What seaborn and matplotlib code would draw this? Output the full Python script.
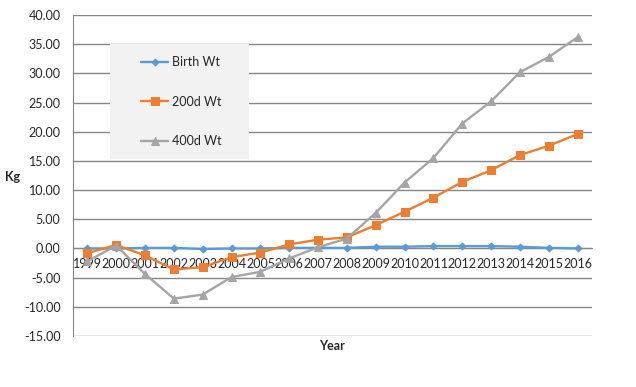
import numpy as np
import pandas as pd
import matplotlib
matplotlib.use('Agg')
import matplotlib.pyplot as plt
import seaborn as sns
from matplotlib.patches import Rectangle
from matplotlib.ticker import FormatStrFormatter

# data
years = [str(y) for y in range(1999, 2017)]
birth_wt = [0.0, 0.0, 0.1, 0.1, -0.1, 0.0, 0.0, 0.1, 0.1, 0.1,
            0.3, 0.3, 0.4, 0.4, 0.4, 0.3, 0.1, 0.0]
d200_wt = [-0.8, 0.6, -1.2, -3.6, -3.2, -1.5, -0.7, 0.7, 1.5, 1.9,
           4.0, 6.3, 8.7, 11.4, 13.4, 16.0, 17.6, 19.6]
d400_wt = [-2.2, 0.5, -4.4, -8.6, -7.9, -4.9, -4.0, -1.7, 0.2, 1.7,
           6.1, 11.3, 15.5, 21.4, 25.2, 30.2, 32.8, 36.2]

series = ['Birth Wt', '200d Wt', '400d Wt']
colors = ['#5b9bd5', '#ed7d31', '#a5a5a5']
markers = ['D', 's', '^']
msizes = [3.5, 5.5, 6]

sns.set_style('white')
plt.rcParams['font.family'] = ['Lato', 'DejaVu Sans']
plt.rcParams['axes.unicode_minus'] = False

df = pd.DataFrame({'Year': years, 'Birth Wt': birth_wt,
                   '200d Wt': d200_wt, '400d Wt': d400_wt})
df['pos'] = np.arange(len(years))
long_df = df.melt(id_vars=['Year', 'pos'], var_name='series', value_name='Kg')

fig = plt.figure(figsize=(6.36, 3.87), dpi=100)
ax = fig.add_axes([73 / 636, 51 / 387, 519 / 636, 321 / 387])

gray = '#868686'
txt = '#262626'

for name, c, m, ms in zip(series, colors, markers, msizes):
    sns.lineplot(data=long_df[long_df['series'] == name], x='pos', y='Kg',
                 color=c, marker=m, markersize=ms, markeredgecolor=c,
                 lw=1.7, label=name, ax=ax, legend=False, zorder=3)

ax.set_xlim(-0.5, 17.5)
ax.set_ylim(-15, 40)
ax.set_yticks(np.arange(-15, 41, 5))
ax.yaxis.set_major_formatter(FormatStrFormatter('%.2f'))
ax.yaxis.grid(True, color=gray, lw=1)
ax.xaxis.grid(False)
ax.set_axisbelow(True)

# category axis: ticks between categories, labels under each
ax.set_xticks(np.arange(-0.5, 18, 1))
ax.set_xticklabels([])
ax.set_xticks(np.arange(18), minor=True)
ax.set_xticklabels(years, minor=True)
ax.tick_params(axis='x', which='major', length=4, width=1, color=gray, direction='out')
ax.tick_params(axis='x', which='minor', length=0, pad=7, labelsize=9, labelcolor=txt)
ax.tick_params(axis='y', length=4, width=1, color=gray, pad=5, labelsize=9, labelcolor=txt)

for s in ['top', 'right']:
    ax.spines[s].set_visible(False)
ax.spines['bottom'].set_position(('data', 0))
ax.spines['bottom'].set_color(gray)
ax.spines['left'].set_color(gray)
ax.spines['bottom'].set_zorder(2)

ax.set_xlabel('')
ax.set_ylabel('')
fig.text(13 / 636, 1 - 177 / 387, 'Kg', ha='center', va='center',
         fontsize=9, fontweight='bold', color=txt)
fig.text(332 / 636, 1 - 346 / 387, 'Year', ha='center', va='center',
         fontsize=9, fontweight='bold', color=txt)

# legend box
ax.add_patch(Rectangle((0.071, 0.551), 0.268, 0.359, transform=ax.transAxes,
                       facecolor='#f2f2f2', edgecolor='none', zorder=2))
leg = ax.legend(loc='upper left', bbox_to_anchor=(0.131, 0.872), frameon=False,
                fontsize=9, labelspacing=2.2, borderpad=0, borderaxespad=0,
                handlelength=2.2, handletextpad=0.3, labelcolor=txt)
leg.set_zorder(4)

plt.savefig('out.png', dpi=100)
